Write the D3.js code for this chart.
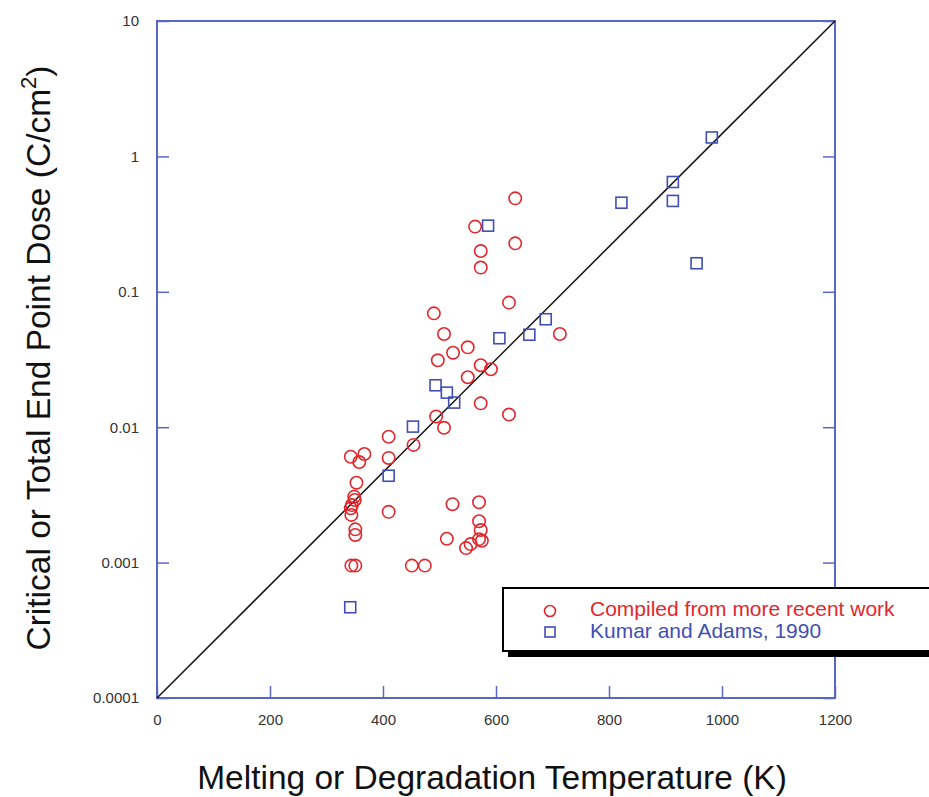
<!DOCTYPE html>
<html>
<head>
<meta charset="utf-8">
<script src="https://cdn.jsdelivr.net/npm/d3@7"></script>
<style>
  html, body { margin: 0; padding: 0; background: #fff; }
  svg { display: block; font-family: "Liberation Sans", Arial, Helvetica, sans-serif; }
</style>
</head>
<body>
<div id="chart"></div>
<script>
// "Compiled from more recent work" (red circles): temperature K, dose C/cm^2
const recentTemp = [634, 563, 634, 573, 573, 623, 490, 508, 713, 550, 524, 497, 573, 591, 550,
    573, 623, 494, 508, 410, 454, 343, 367, 358, 410, 353, 349, 350, 345, 343, 344, 410, 523,
    570, 570, 573, 570, 575, 513, 547, 555, 351, 351, 344, 351, 451, 474];
const recentDose = [0.49, 0.303, 0.228, 0.200, 0.151, 0.0832, 0.0693, 0.0488, 0.0488, 0.0389,
    0.0355, 0.0312, 0.0287, 0.0268, 0.0234, 0.0150, 0.0124, 0.0120, 0.0099, 0.0085, 0.0074,
    0.00605, 0.00634, 0.00553, 0.00593, 0.00389, 0.00307, 0.0029, 0.00266, 0.00252, 0.00225,
    0.00237, 0.0027, 0.00279, 0.00202, 0.00174, 0.00149, 0.00145, 0.0015, 0.00128, 0.00137,
    0.00176, 0.0016, 0.00095, 0.00095, 0.00095, 0.00095];

// "Kumar and Adams, 1990" (blue squares)
const kumarTemp = [982, 913, 913, 822, 955, 586, 688, 659, 606, 493, 513, 526, 453, 410, 342];
const kumarDose = [1.38, 0.647, 0.469, 0.455, 0.1625, 0.308, 0.0627, 0.0482, 0.0454, 0.0204,
    0.0180, 0.0152, 0.0101, 0.00438, 0.000468];

const xTicks = [0, 200, 400, 600, 800, 1000, 1200];
const yTicks = [0.0001, 0.001, 0.01, 0.1, 1, 10];
const legendLabels = ["Compiled from more recent work", "Kumar and Adams, 1990"];

const W = 929, H = 797;
const margin = { top: 21, right: 94, bottom: 99, left: 157 };
const width = W - margin.left - margin.right;
const height = H - margin.top - margin.bottom;

const RED = "#e2282c", BLUE = "#3f4fb4", FRAME = "#5866c4";

const svg = d3.select("#chart").append("svg")
    .attr("width", W).attr("height", H);

const g = svg.append("g").attr("transform", `translate(${margin.left},${margin.top})`);

const x = d3.scaleLinear().domain([0, 1200]).range([0, width]);
const y = d3.scaleLog().domain([0.0001, 10]).range([height, 0]);

const yFmt = d => d >= 1 ? String(d) : String(+d.toPrecision(1));

// axes: ticks point inward, labels outside
const styleAxis = sel => {
    sel.select(".domain").remove();
    sel.attr("font-size", null).attr("font-family", null);
    sel.selectAll(".tick line").attr("stroke", FRAME).attr("stroke-width", 1.5);
    sel.selectAll(".tick text").attr("fill", "#333").style("font-size", "15px");
};

g.append("g")
    .attr("transform", `translate(0,${height})`)
    .call(d3.axisBottom(x).tickValues(xTicks).tickFormat(d3.format("d"))
        .tickSizeInner(-12).tickSizeOuter(0).tickPadding(16))
    .call(styleAxis);

g.append("g")
    .call(d3.axisLeft(y).tickValues(yTicks).tickFormat(yFmt).tickSizeInner(-12).tickSizeOuter(0).tickPadding(18))
    .call(styleAxis);

g.append("g")
    .attr("transform", `translate(${width},0)`)
    .call(d3.axisRight(y).tickValues(yTicks).tickFormat("").tickSizeInner(-12).tickSizeOuter(0))
    .call(styleAxis);

// frame
g.append("rect")
    .attr("width", width).attr("height", height)
    .attr("fill", "none").attr("stroke", FRAME).attr("stroke-width", 2);

// 1:1 reference line
g.append("line")
    .attr("x1", x(0)).attr("y1", y(0.0001))
    .attr("x2", x(1200)).attr("y2", y(10))
    .attr("stroke", "#111").attr("stroke-width", 1.5);

const recent = recentTemp.map((t, i) => ({ t, d: recentDose[i] }));
const kumar = kumarTemp.map((t, i) => ({ t, d: kumarDose[i] }));

g.append("g").selectAll("circle")
    .data(recent)
    .join("circle")
    .attr("cx", d => x(d.t)).attr("cy", d => y(d.d))
    .attr("r", 6.2)
    .attr("fill", "none").attr("stroke", RED).attr("stroke-width", 1.6);

const sq = 11;
g.append("g").selectAll("rect")
    .data(kumar)
    .join("rect")
    .attr("x", d => x(d.t) - sq / 2).attr("y", d => y(d.d) - sq / 2)
    .attr("width", sq).attr("height", sq)
    .attr("fill", "none").attr("stroke", BLUE).attr("stroke-width", 1.6);

// legend box with drop shadow, runs off the right edge
const leg = svg.append("g").attr("transform", "translate(503,588)");
leg.append("rect").attr("x", 5).attr("y", 6).attr("width", 460).attr("height", 63).attr("fill", "#000");
leg.append("rect").attr("width", 460).attr("height", 63)
    .attr("fill", "#fff").attr("stroke", "#000").attr("stroke-width", 2);
leg.append("circle").attr("cx", 47).attr("cy", 23).attr("r", 5.5)
    .attr("fill", "none").attr("stroke", RED).attr("stroke-width", 1.6);
leg.append("rect").attr("x", 42).attr("y", 39).attr("width", 10).attr("height", 10)
    .attr("fill", "none").attr("stroke", BLUE).attr("stroke-width", 1.6);
leg.append("text").attr("x", 87).attr("y", 28).attr("fill", RED)
    .style("font-size", "21px").text(legendLabels[0]);
leg.append("text").attr("x", 87).attr("y", 50).attr("fill", BLUE)
    .style("font-size", "21px").text(legendLabels[1]);

// axis titles
svg.append("text")
    .attr("x", margin.left + width / 2 - 4).attr("y", 789)
    .attr("text-anchor", "middle").attr("fill", "#111")
    .style("font-size", "33.5px")
    .text("Melting or Degradation Temperature (K)");

const yl = svg.append("text")
    .attr("transform", `translate(50,${358}) rotate(-90)`)
    .attr("text-anchor", "middle").attr("fill", "#111")
    .style("font-size", "33.5px");
yl.append("tspan").text("Critical or Total End Point Dose (C/cm");
yl.append("tspan").attr("dy", -14).style("font-size", "22px").text("2");
yl.append("tspan").attr("dy", 14).text(")");
</script>
</body>
</html>
